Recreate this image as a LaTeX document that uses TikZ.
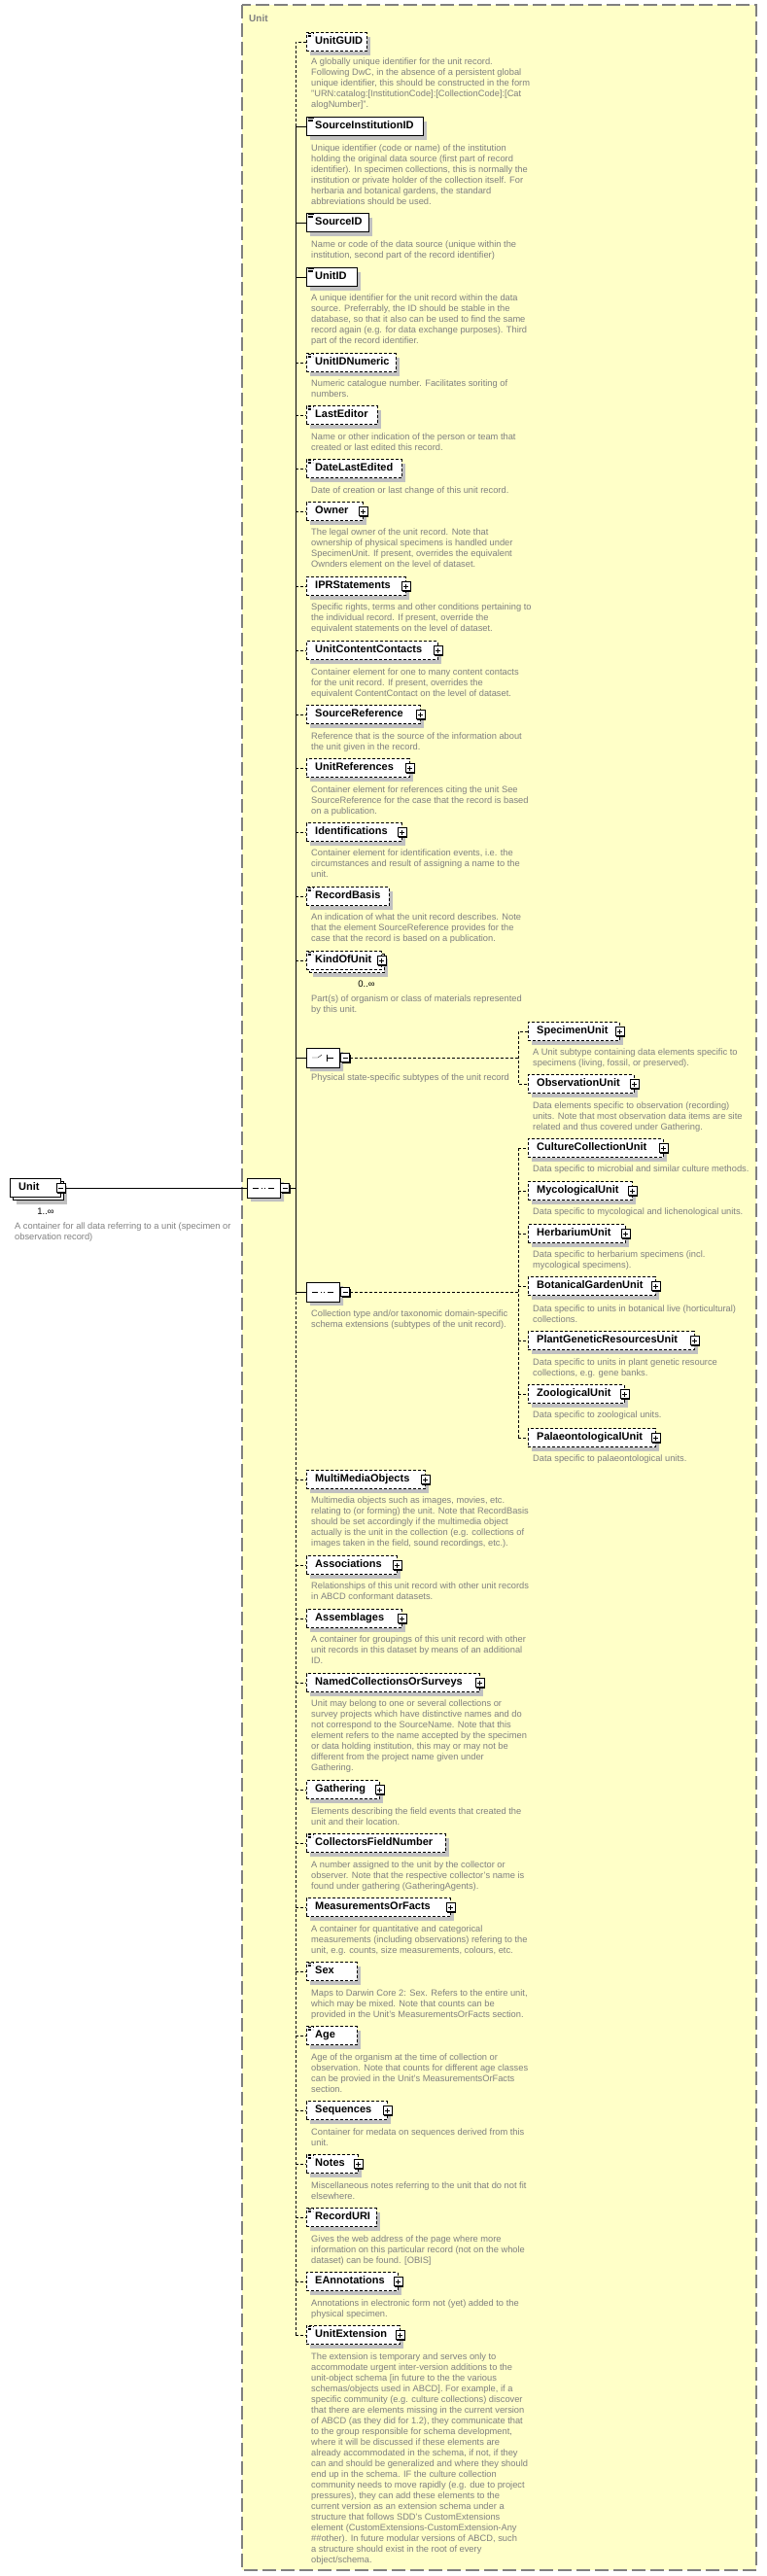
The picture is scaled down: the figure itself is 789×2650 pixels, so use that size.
\documentclass[tikz,border=0pt]{standalone}
\usepackage{fontspec}
\setmainfont{Liberation Sans}
\usetikzlibrary{shapes.misc,shadows}
\definecolor{panelyellow}{RGB}{255,255,200}
\definecolor{panelgray}{RGB}{128,128,128}
\definecolor{descgray}{RGB}{128,128,128}
\definecolor{shadowgray}{RGB}{192,192,192}
\begin{document}
\begin{tikzpicture}[x=1pt,y=-1pt,
  el/.style={draw,fill=white,anchor=west,minimum height=19pt,inner xsep=9pt,inner ysep=0pt,text height=8pt,text depth=2.5pt,align=left,font=\bfseries\fontsize{11}{13}\selectfont},
  req/.style={el,drop shadow={shadow xshift=4pt,shadow yshift=-4pt,fill=shadowgray,opacity=1}},
  opt/.style={req,dash pattern=on 3pt off 2pt},
  many/.style={drop shadow={shadow xshift=7pt,shadow yshift=-7pt,fill=shadowgray,opacity=1},copy shadow={shadow xshift=3pt,shadow yshift=-3pt,draw=black,fill=white}},
  doc/.style={path picture={
    \draw[line width=0.7pt] ([shift={(1.5pt,-1.2pt)}]path picture bounding box.north west) -- ++(6,0);
    \draw[line width=0.5pt] ([shift={(1.5pt,-2.7pt)}]path picture bounding box.north west) -- ++(5,0)
      ([shift={(1.5pt,-4.2pt)}]path picture bounding box.north west) -- ++(5,0);}},
  pm/.style={draw,fill=white,line width=0.8pt,minimum size=9pt,inner sep=0pt,drop shadow={shadow xshift=1pt,shadow yshift=-1pt,fill=black,opacity=1}},
  minus/.style={pm,path picture={\draw[line width=0.7pt] ([xshift=2pt]path picture bounding box.west) -- ([xshift=-2pt]path picture bounding box.east);}},
  plus/.style={pm,path picture={\draw[line width=0.7pt] ([xshift=2pt]path picture bounding box.west) -- ([xshift=-2pt]path picture bounding box.east)
      ([yshift=-2pt]path picture bounding box.north) -- ([yshift=2pt]path picture bounding box.south);}},
  sym/.style={chamfered rectangle,chamfered rectangle sep=4pt,draw,fill=white,minimum width=34pt,minimum height=20pt,inner sep=0pt,
    drop shadow={shadow xshift=4pt,shadow yshift=-4pt,fill=shadowgray,opacity=1}},
  seq/.style={sym,path picture={\coordinate (sc) at (path picture bounding box.center);
    \draw ([xshift=-11pt]sc) -- ([xshift=11pt]sc);
    \foreach \d in {-3.5,0,3.5} \fill ([xshift=\d pt]sc) +(-1.3pt,-1.3pt) rectangle +(1.3pt,1.3pt);}},
  alt/.style={sym,path picture={\coordinate (sc) at (path picture bounding box.center);
    \draw ([xshift=-11pt]sc) -- ([xshift=-5pt]sc) -- ([xshift=-1pt,yshift=3pt]sc);
    \foreach \d in {-3.5,0,3.5} \fill ([xshift=2pt,yshift=\d pt]sc) +(-1.1pt,-1.1pt) rectangle +(1.1pt,1.1pt);
    \draw ([xshift=4.5pt,yshift=3.5pt]sc) -- ([xshift=4.5pt,yshift=-3.5pt]sc) ([xshift=4.5pt]sc) -- ([xshift=11pt]sc);}},
  desc/.style={anchor=north west,inner sep=0pt,align=left,text=descgray,font=\fontsize{9.3}{11}\selectfont},
  card/.style={inner sep=0pt,font=\fontsize{9.5}{11}\selectfont},
  optline/.style={dash pattern=on 3pt off 2pt}]
\useasboundingbox (0,0) rectangle (789,2650);
\draw[draw=panelgray,fill=panelyellow,line width=1.2pt,dash pattern=on 14pt off 5pt] (249,5) rectangle (778,2644);
\node[anchor=west,inner sep=0pt,text=panelgray,font=\bfseries\fontsize{10}{12}\selectfont] (paneltitle) at (256,19) {Unit};

\node[el,many,text width=34pt] (Unit) at (10,1222) {Unit};
\node[minus] (Unit-m) at (Unit.east) {};
\node[card] (Unit-c) at (47,1246) {1..∞};
\node[desc] (Unit-d) at (15,1258) {A container for all data referring to a unit (specimen or\\observation record)};
\node[seq] (mainseq) at (271,1222) {};
\node[minus] (mainseq-m) at (293,1222) {};

\node[opt,doc,text width=44pt] (UnitGUID) at (315,43) {UnitGUID};
\node[desc] (UnitGUID-d) at (320,60) {A globally unique identifier for the unit record.\\Following DwC, in the absence of a persistent global\\unique identifier, this should be constructed in the form\\"URN:catalog:[InstitutionCode]:[CollectionCode]:[Cat\\alogNumber]".};
\node[req,doc,text width=102pt] (SourceInstitutionID) at (315,130) {SourceInstitutionID};
\node[desc] (SourceInstitutionID-d) at (320,149) {Unique identifier (code or name) of the institution\\holding the original data source (first part of record\\identifier). In specimen collections, this is normally the\\institution or private holder of the collection itself. For\\herbaria and botanical gardens, the standard\\abbreviations should be used.};
\node[req,doc,text width=46pt] (SourceID) at (315,229) {SourceID};
\node[desc] (SourceID-d) at (320,248) {Name or code of the data source (unique within the\\institution, second part of the record identifier)};
\node[req,doc,text width=34pt] (UnitID) at (315,285) {UnitID};
\node[desc] (UnitID-d) at (320,303) {A unique identifier for the unit record within the data\\source. Preferrably, the ID should be stable in the\\database, so that it also can be used to find the same\\record again (e.g. for data exchange purposes). Third\\part of the record identifier.};
\node[opt,doc,text width=74pt] (UnitIDNumeric) at (315,373) {UnitIDNumeric};
\node[desc] (UnitIDNumeric-d) at (320,391) {Numeric catalogue number. Facilitates soriting of\\numbers.};
\node[opt,doc,text width=55pt] (LastEditor) at (315,427) {LastEditor};
\node[desc] (LastEditor-d) at (320,446) {Name or other indication of the person or team that\\created or last edited this record.};
\node[opt,doc,text width=80pt] (DateLastEdited) at (315,482) {DateLastEdited};
\node[desc] (DateLastEdited-d) at (320,501) {Date of creation or last change of this unit record.};
\node[opt,text width=40pt] (Owner) at (315,526) {Owner};
\node[plus] (Owner-p) at (Owner.east) {};
\node[desc] (Owner-d) at (320,544) {The legal owner of the unit record. Note that\\ownership of physical specimens is handled under\\SpecimenUnit. If present, overrides the equivalent\\Ownders element on the level of dataset.};
\node[opt,text width=84pt] (IPRStatements) at (315,603) {IPRStatements};
\node[plus] (IPRStatements-p) at (IPRStatements.east) {};
\node[desc] (IPRStatements-d) at (320,621) {Specific rights, terms and other conditions pertaining to\\the individual record. If present, override the\\equivalent statements on the level of dataset.};
\node[opt,text width=117pt] (UnitContentContacts) at (315,669) {UnitContentContacts};
\node[plus] (UnitContentContacts-p) at (UnitContentContacts.east) {};
\node[desc] (UnitContentContacts-d) at (320,688) {Container element for one to many content contacts\\for the unit record. If present, overrides the\\equivalent ContentContact on the level of dataset.};
\node[opt,text width=99pt] (SourceReference) at (315,735) {SourceReference};
\node[plus] (SourceReference-p) at (SourceReference.east) {};
\node[desc] (SourceReference-d) at (320,754) {Reference that is the source of the information about\\the unit given in the record.};
\node[opt,text width=88pt] (UnitReferences) at (315,790) {UnitReferences};
\node[plus] (UnitReferences-p) at (UnitReferences.east) {};
\node[desc] (UnitReferences-d) at (320,809) {Container element for references citing the unit See\\SourceReference for the case that the record is based\\on a publication.};
\node[opt,text width=80pt] (Identifications) at (315,856) {Identifications};
\node[plus] (Identifications-p) at (Identifications.east) {};
\node[desc] (Identifications-d) at (320,874) {Container element for identification events, i.e. the\\circumstances and result of assigning a name to the\\unit.};
\node[opt,doc,text width=67pt] (RecordBasis) at (315,922) {RecordBasis};
\node[desc] (RecordBasis-d) at (320,940) {An indication of what the unit record describes. Note\\that the element SourceReference provides for the\\case that the record is based on a publication.};
\node[el,dash pattern=on 3pt off 2pt,many,doc,text width=59pt] (KindOfUnit) at (315,988) {KindOfUnit};
\node[plus] (KindOfUnit-p) at (KindOfUnit.east) {};
\node[card] (KindOfUnit-c) at (377,1012) {0..∞};
\node[desc] (KindOfUnit-d) at (320,1024) {Part(s) of organism or class of materials represented\\by this unit.};

\node[alt] (choice) at (332,1088) {};
\node[minus] (choice-m) at (355,1088) {};
\node[desc] (choice-d) at (320,1105) {Physical state-specific subtypes of the unit record};
\node[opt,text width=76pt] (SpecimenUnit) at (543,1061) {SpecimenUnit};
\node[plus] (SpecimenUnit-p) at (SpecimenUnit.east) {};
\node[desc] (SpecimenUnit-d) at (548,1079) {A Unit subtype containing data elements specific to\\specimens (living, fossil, or preserved).};
\node[opt,text width=91pt] (ObservationUnit) at (543,1115) {ObservationUnit};
\node[plus] (ObservationUnit-p) at (ObservationUnit.east) {};
\node[desc] (ObservationUnit-d) at (548,1134) {Data elements specific to observation (recording)\\units. Note that most observation data items are site\\related and thus covered under Gathering.};

\node[seq] (coll) at (332,1329) {};
\node[minus] (coll-m) at (355,1329) {};
\node[desc] (coll-d) at (320,1348) {Collection type and/or taxonomic domain-specific\\schema extensions (subtypes of the unit record).};
\node[opt,text width=121pt] (CultureCollectionUnit) at (543,1181) {CultureCollectionUnit};
\node[plus] (CultureCollectionUnit-p) at (CultureCollectionUnit.east) {};
\node[desc] (CultureCollectionUnit-d) at (548,1199) {Data specific to microbial and similar culture methods.};
\node[opt,text width=89pt] (MycologicalUnit) at (543,1225) {MycologicalUnit};
\node[plus] (MycologicalUnit-p) at (MycologicalUnit.east) {};
\node[desc] (MycologicalUnit-d) at (548,1243) {Data specific to mycological and lichenological units.};
\node[opt,text width=82pt] (HerbariumUnit) at (543,1269) {HerbariumUnit};
\node[plus] (HerbariumUnit-p) at (HerbariumUnit.east) {};
\node[desc] (HerbariumUnit-d) at (548,1287) {Data specific to herbarium specimens (incl.\\mycological specimens).};
\node[opt,text width=113pt] (BotanicalGardenUnit) at (543,1323) {BotanicalGardenUnit};
\node[plus] (BotanicalGardenUnit-p) at (BotanicalGardenUnit.east) {};
\node[desc] (BotanicalGardenUnit-d) at (548,1343) {Data specific to units in botanical live (horticultural)\\collections.};
\node[opt,text width=153pt] (PlantGeneticResourcesUnit) at (543,1379) {PlantGeneticResourcesUnit};
\node[plus] (PlantGeneticResourcesUnit-p) at (PlantGeneticResourcesUnit.east) {};
\node[desc] (PlantGeneticResourcesUnit-d) at (548,1398) {Data specific to units in plant genetic resource\\collections, e.g. gene banks.};
\node[opt,text width=81pt] (ZoologicalUnit) at (543,1434) {ZoologicalUnit};
\node[plus] (ZoologicalUnit-p) at (ZoologicalUnit.east) {};
\node[desc] (ZoologicalUnit-d) at (548,1452) {Data specific to zoological units.};
\node[opt,text width=113pt] (PalaeontologicalUnit) at (543,1479) {PalaeontologicalUnit};
\node[plus] (PalaeontologicalUnit-p) at (PalaeontologicalUnit.east) {};
\node[desc] (PalaeontologicalUnit-d) at (548,1497) {Data specific to palaeontological units.};

\node[opt,text width=104pt] (MultiMediaObjects) at (315,1522) {MultiMediaObjects};
\node[plus] (MultiMediaObjects-p) at (MultiMediaObjects.east) {};
\node[desc] (MultiMediaObjects-d) at (320,1540) {Multimedia objects such as images, movies, etc.\\relating to (or forming) the unit. Note that RecordBasis\\should be set accordingly if the multimedia object\\actually is the unit in the collection (e.g. collections of\\images taken in the field, sound recordings, etc.).};
\node[opt,text width=75pt] (Associations) at (315,1610) {Associations};
\node[plus] (Associations-p) at (Associations.east) {};
\node[desc] (Associations-d) at (320,1628) {Relationships of this unit record with other unit records\\in ABCD conformant datasets.};
\node[opt,text width=80pt] (Assemblages) at (315,1665) {Assemblages};
\node[plus] (Assemblages-p) at (Assemblages.east) {};
\node[desc] (Assemblages-d) at (320,1683) {A container for groupings of this unit record with other\\unit records in this dataset by means of an additional\\ID.};
\node[opt,text width=160pt] (NamedCollectionsOrSurveys) at (315,1731) {NamedCollectionsOrSurveys};
\node[plus] (NamedCollectionsOrSurveys-p) at (NamedCollectionsOrSurveys.east) {};
\node[desc] (NamedCollectionsOrSurveys-d) at (320,1749) {Unit may belong to one or several collections or\\survey projects which have distinctive names and do\\not correspond to the SourceName. Note that this\\element refers to the name accepted by the specimen\\or data holding institution, this may or may not be\\different from the  project name given under\\Gathering.};
\node[opt,text width=57pt] (Gathering) at (315,1841) {Gathering};
\node[plus] (Gathering-p) at (Gathering.east) {};
\node[desc] (Gathering-d) at (320,1860) {Elements describing the field events that created the\\unit and their location.};
\node[opt,doc,text width=125pt] (CollectorsFieldNumber) at (315,1896) {CollectorsFieldNumber};
\node[desc] (CollectorsFieldNumber-d) at (320,1915) {A number assigned to the unit by the collector or\\observer. Note that the respective collector's name is\\found under gathering (GatheringAgents).};
\node[opt,text width=130pt] (MeasurementsOrFacts) at (315,1962) {MeasurementsOrFacts};
\node[plus] (MeasurementsOrFacts-p) at (MeasurementsOrFacts.east) {};
\node[desc] (MeasurementsOrFacts-d) at (320,1981) {A container for quantitative and categorical\\measurements (including observations) refering to the\\unit, e.g. counts, size measurements, colours, etc.};
\node[opt,doc,text width=34pt] (Sex) at (315,2028) {Sex};
\node[desc] (Sex-d) at (320,2047) {Maps to Darwin Core 2: Sex. Refers to the entire unit,\\which may be mixed. Note that counts can be\\provided in the Unit's MeasurementsOrFacts section.};
\node[opt,doc,text width=34pt] (Age) at (315,2094) {Age};
\node[desc] (Age-d) at (320,2113) {Age of the organism at the time of collection or\\observation. Note that counts for different age classes\\can be provied in the Unit's MeasurementsOrFacts\\section.};
\node[opt,text width=65pt] (Sequences) at (315,2171) {Sequences};
\node[plus] (Sequences-p) at (Sequences.east) {};
\node[desc] (Sequences-d) at (320,2190) {Container for medata on sequences derived from this\\unit.};
\node[opt,doc,text width=35pt] (Notes) at (315,2226) {Notes};
\node[plus] (Notes-p) at (Notes.east) {};
\node[desc] (Notes-d) at (320,2245) {Miscellaneous notes referring to the unit that do not fit\\elsewhere.};
\node[opt,doc,text width=54pt] (RecordURI) at (315,2281) {RecordURI};
\node[desc] (RecordURI-d) at (320,2300) {Gives the web address of the page where more\\information on this particular record (not on the whole\\dataset) can be found. [OBIS]};
\node[opt,text width=76pt] (EAnnotations) at (315,2347) {EAnnotations};
\node[plus] (EAnnotations-p) at (EAnnotations.east) {};
\node[desc] (EAnnotations-d) at (320,2366) {Annotations in electronic form not (yet) added to the\\physical specimen.};
\node[opt,doc,text width=78pt] (UnitExtension) at (315,2402) {UnitExtension};
\node[plus] (UnitExtension-p) at (UnitExtension.east) {};
\node[desc] (UnitExtension-d) at (320,2421) {The extension is temporary and serves only to\\accommodate urgent inter-version additions to the\\unit-object schema [in future to the the various\\schemas/objects used in ABCD]. For example, if a\\specific community (e.g. culture collections) discover\\that there are elements missing in the current version\\of ABCD (as they did for 1.2), they communicate that\\to the group responsible for schema development,\\where it will be discussed if these elements are\\already accommodated in the schema, if not, if they\\can and should be generalized and where they should\\end up in the schema. IF the culture collection\\community needs to move rapidly (e.g. due to project\\pressures), they can add these elements to the\\current version as an extension schema under a\\structure that follows SDD's CustomExtensions\\element (CustomExtensions-CustomExtension-Any\\\#\#other). In future modular versions of ABCD, such\\a structure should exist in the root of every\\object/schema.};

\coordinate (bartop) at (304,43);
\coordinate (cbar) at (533,1088);
\coordinate (sbar) at (533,1329);
\draw (Unit-m.east) -- (mainseq.west);
\draw (mainseq-m.east) -- (mainseq-m.east -| bartop);
\draw[optline] (UnitGUID.west) -- (bartop) -- (SourceInstitutionID.west -| bartop);
\draw (SourceInstitutionID.west -| bartop) -- (coll.west -| bartop);
\draw[optline] (coll.west -| bartop) -- (UnitExtension.west -| bartop);
\foreach \n in {SourceInstitutionID,SourceID,UnitID,choice,coll}
  \draw (\n.west -| bartop) -- (\n.west);
\foreach \n in {UnitIDNumeric,LastEditor,DateLastEdited,Owner,IPRStatements,UnitContentContacts,SourceReference,UnitReferences,Identifications,RecordBasis,KindOfUnit,MultiMediaObjects,Associations,Assemblages,NamedCollectionsOrSurveys,Gathering,CollectorsFieldNumber,MeasurementsOrFacts,Sex,Age,Sequences,Notes,RecordURI,EAnnotations,UnitExtension}
  \draw[optline] (\n.west -| bartop) -- (\n.west);
\draw[optline] (choice-m.east) -- (cbar);
\draw[optline] (SpecimenUnit.west) -- (SpecimenUnit.west -| cbar) -- (ObservationUnit.west -| cbar) -- (ObservationUnit.west);
\draw[optline] (coll-m.east) -- (sbar);
\draw[optline] (CultureCollectionUnit.west -| sbar) -- (PalaeontologicalUnit.west -| sbar);
\foreach \n in {CultureCollectionUnit,MycologicalUnit,HerbariumUnit,BotanicalGardenUnit,PlantGeneticResourcesUnit,ZoologicalUnit,PalaeontologicalUnit}
  \draw[optline] (\n.west -| sbar) -- (\n.west);
\end{tikzpicture}
\end{document}
